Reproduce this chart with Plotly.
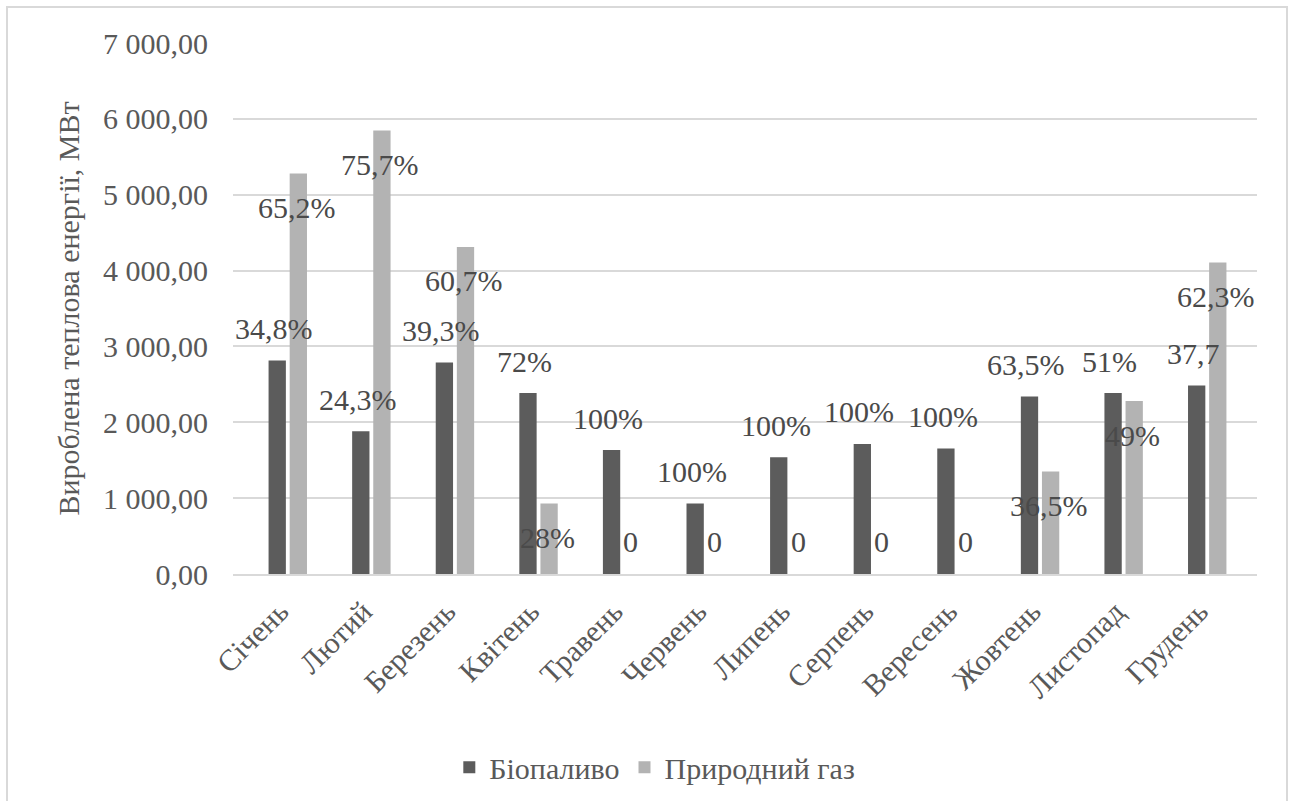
import plotly.graph_objects as go

# Monthly heat output by fuel, MW
months = ["Січень", "Лютий", "Березень", "Квітень", "Травень", "Червень",
          "Липень", "Серпень", "Вересень", "Жовтень", "Листопад", "Грудень"]
biofuel = [2814, 1881, 2789, 2385, 1634, 928, 1538, 1715, 1654, 2340, 2385, 2486]
natural_gas = [5280, 5845, 4312, 928, 0, 0, 0, 0, 0, 1351, 2279, 4105]

# Share labels shown above / inside the bars
biofuel_labels = ["34,8%", "24,3%", "39,3%", "72%", "100%", "100%",
                  "100%", "100%", "100%", "63,5%", "51%", "37,7"]
gas_labels = ["65,2%", "75,7%", "60,7%", "28%", "0", "0",
              "0", "0", "0", "36,5%", "49%", "62,3%"]

y_ticks = [0, 1000, 2000, 3000, 4000, 5000, 6000, 7000]
y_tick_text = ["0,00", "1 000,00", "2 000,00", "3 000,00",
               "4 000,00", "5 000,00", "6 000,00", "7 000,00"]

FONT = "Liberation Serif"
TXT = "#595959"
LBL = "#4a4a4a"
BIO_COLOR = "#5c5c5c"
GAS_COLOR = "#b3b3b3"
FS = 30

W, H = 1289, 801
ML, MR, MT, MB = 233, 32, 43, 227

fig = go.Figure()
fig.add_trace(go.Bar(name="Біопаливо", x=months, y=biofuel,
                     marker=dict(color=BIO_COLOR, line=dict(width=0))))
fig.add_trace(go.Bar(name="Природний газ", x=months, y=natural_gas,
                     marker=dict(color=GAS_COLOR, line=dict(width=0))))

# bar geometry within each category slot (in px) for label placement
plot_w = W - ML - MR
cat_w = plot_w / len(months)
bargap = 0.495
slot_off = cat_w * (1 - bargap) / 4

annotations = []
for i, m in enumerate(months):
    annotations.append(dict(x=i, y=biofuel[i], xref="x", yref="y",
                            text=biofuel_labels[i], showarrow=False,
                            xshift=-slot_off - 3, yshift=32,
                            font=dict(family=FONT, size=FS, color=LBL)))
    g = natural_gas[i]
    annotations.append(dict(x=i, y=g, xref="x", yref="y",
                            text=gas_labels[i], showarrow=False,
                            xshift=slot_off - 2, yshift=(-34 if g > 0 else 33),
                            font=dict(family=FONT, size=FS, color=LBL)))

fig.update_layout(
    template="none",
    width=W, height=H,
    margin=dict(l=ML, r=MR, t=MT, b=MB),
    paper_bgcolor="white", plot_bgcolor="white",
    barmode="group", bargap=bargap, bargroupgap=0.18,
    font=dict(family=FONT, size=FS, color=TXT),
    xaxis=dict(type="category", tickangle=-45, showgrid=False,
               showline=True, linecolor="#d9d9d9", linewidth=2,
               ticks="", ticklabelshift=-8, ticklabelstandoff=6,
               tickfont=dict(family=FONT, size=FS, color=TXT)),
    yaxis=dict(range=[0, 7000], showgrid=True,
               gridcolor="#d9d9d9", gridwidth=2, zeroline=False,
               showline=False, ticks="", ticklabelstandoff=24,
               tickvals=y_ticks, ticktext=y_tick_text,
               tickfont=dict(family=FONT, size=FS, color=TXT),
               title=dict(text="Вироблена теплова енергії, МВт",
                          font=dict(family=FONT, size=FS, color=TXT),
                          standoff=14)),
    legend=dict(orientation="h", xref="container", yref="container",
                x=0.508, xanchor="center", y=0.042, yanchor="middle",
                font=dict(family=FONT, size=FS, color=TXT),
                itemwidth=30, tracegroupgap=0),
    annotations=annotations,
    shapes=[dict(type="rect", xref="paper", yref="paper",
                 x0=(7 - ML) / plot_w, x1=(W - 2 - ML) / plot_w,
                 y0=-(H + 10 - (H - MB)) / (H - MT - MB),
                 y1=((H - MB) - 7) / (H - MT - MB),
                 line=dict(color="#d9d9d9", width=2), layer="below")],
)

fig.write_html("out.html")
